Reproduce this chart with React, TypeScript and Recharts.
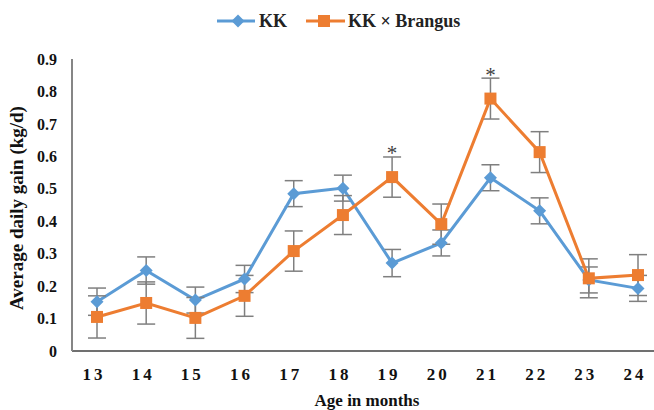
import { LineChart, Line, XAxis, YAxis, ErrorBar, Legend, LabelList } from "recharts"

const months = ["13", "14", "15", "16", "17", "18", "19", "20", "21", "22", "23", "24"]
const kk = [0.152, 0.248, 0.157, 0.222, 0.485, 0.502, 0.271, 0.333, 0.534, 0.432, 0.219, 0.193]
const kkSe = [0.042, 0.042, 0.04, 0.042, 0.04, 0.04, 0.042, 0.04, 0.04, 0.04, 0.04, 0.04]
const kkBrangus = [0.105, 0.148, 0.102, 0.17, 0.308, 0.419, 0.536, 0.391, 0.778, 0.613, 0.224, 0.234]
const kkBrangusSe = [0.065, 0.065, 0.063, 0.063, 0.062, 0.06, 0.062, 0.062, 0.063, 0.063, 0.06, 0.063]
const stars = ["", "", "", "", "", "", "*", "", "*", "", "", ""]
const yTicks = [0, 0.1, 0.2, 0.3, 0.4, 0.5, 0.6, 0.7, 0.8, 0.9]

const data = months.map((m, i) => ({
  month: m,
  kk: kk[i],
  kkSe: kkSe[i],
  kkb: kkBrangus[i],
  kkbSe: kkBrangusSe[i],
  star: stars[i],
}))

const FONT = "'Liberation Serif', 'Times New Roman', serif"
const BLUE = "#5B9BD5"
const ORANGE = "#ED7D31"

const Diamond = ({ cx, cy }: any) => (
  <path d={`M${cx},${cy - 6.5} L${cx + 6.5},${cy} L${cx},${cy + 6.5} L${cx - 6.5},${cy} Z`} fill={BLUE} />
)

const Square = ({ cx, cy }: any) => <rect x={cx - 6} y={cy - 6} width={12} height={12} fill={ORANGE} />

const ChartLegend = () => (
  <svg width={654} height={59} style={{ display: "block" }}>
    <line x1={217} y1={21} x2={255} y2={21} stroke={BLUE} strokeWidth={3} />
    <Diamond cx={238} cy={21} />
    <text x={259} y={27} fontFamily={FONT} fontWeight="bold" fontSize={18} fill="#222">KK</text>
    <line x1={306} y1={21} x2={345} y2={21} stroke={ORANGE} strokeWidth={3} />
    <Square cx={324} cy={21} />
    <text x={348} y={27} fontFamily={FONT} fontWeight="bold" fontSize={18} fill="#222">KK × Brangus</text>
  </svg>
)

// asterisk over the significant months
const StarLabel = ({ x, y, value }: any) =>
  value ? (
    <text x={x} y={y - 17} textAnchor="middle" fontFamily={FONT} fontSize={21} fill="#404040">
      {value}
    </text>
  ) : null

export default function App() {
  return (
    <div style={{ position: "absolute", left: 0, top: 0, width: 654, height: 410, overflow: "hidden", background: "#fff" }}>
      <LineChart width={663} height={410} data={data} margin={{ top: 0, right: 1, left: 0, bottom: 0 }}>
        <Legend
          verticalAlign="top"
          content={() => <ChartLegend />}
          wrapperStyle={{ top: 0, left: 0, width: 654, height: 59 }}
        />
        <XAxis
          dataKey="month"
          height={59}
          padding={{ left: 25, right: 24 }}
          tickLine={false}
          tickSize={0}
          tickMargin={17}
          axisLine={{ stroke: "#404040", strokeWidth: 1.5 }}
          tick={{ fill: "#111", fontSize: 17, fontWeight: "bold", fontFamily: FONT, letterSpacing: 3, dx: -3 }}
          label={{
            content: ({ viewBox }: any) => (
              <text
                x={viewBox.x + viewBox.width / 2}
                y={406}
                textAnchor="middle"
                fontFamily={FONT}
                fontWeight="bold"
                fontSize={17}
                fill="#111"
              >
                Age in months
              </text>
            ),
          }}
        />
        <YAxis
          width={72}
          domain={[0, 0.9]}
          ticks={yTicks}
          interval={0}
          tickLine={false}
          tickSize={0}
          tickMargin={15}
          axisLine={{ stroke: "#868686", strokeWidth: 2 }}
          tickFormatter={(v: number) => (v === 0 ? "0" : v.toFixed(1))}
          tick={{ fill: "#111", fontSize: 16, fontWeight: "bold", fontFamily: FONT }}
          label={{
            content: ({ viewBox }: any) => (
              <text
                x={0}
                y={0}
                transform={`translate(23, ${viewBox.y + viewBox.height / 2 + 3}) rotate(-90)`}
                textAnchor="middle"
                fontFamily={FONT}
                fontWeight="bold"
                fontSize={19}
                fill="#111"
              >
                Average daily gain (kg/d)
              </text>
            ),
          }}
        />
        <Line
          dataKey="kk"
          name="KK"
          stroke={BLUE}
          strokeWidth={3}
          isAnimationActive={false}
          dot={(p: any) => <Diamond key={`kk-${p.index}`} cx={p.cx} cy={p.cy} />}
          activeDot={false}
        >
          <ErrorBar dataKey="kkSe" width={9} stroke="#7f7f7f" strokeWidth={1.5} direction="y" />
        </Line>
        <Line
          dataKey="kkb"
          name="KK × Brangus"
          stroke={ORANGE}
          strokeWidth={3}
          isAnimationActive={false}
          dot={(p: any) => <Square key={`kkb-${p.index}`} cx={p.cx} cy={p.cy} />}
          activeDot={false}
        >
          <ErrorBar dataKey="kkbSe" width={9} stroke="#7f7f7f" strokeWidth={1.5} direction="y" />
          <LabelList dataKey="star" content={<StarLabel />} />
        </Line>
      </LineChart>
    </div>
  )
}
